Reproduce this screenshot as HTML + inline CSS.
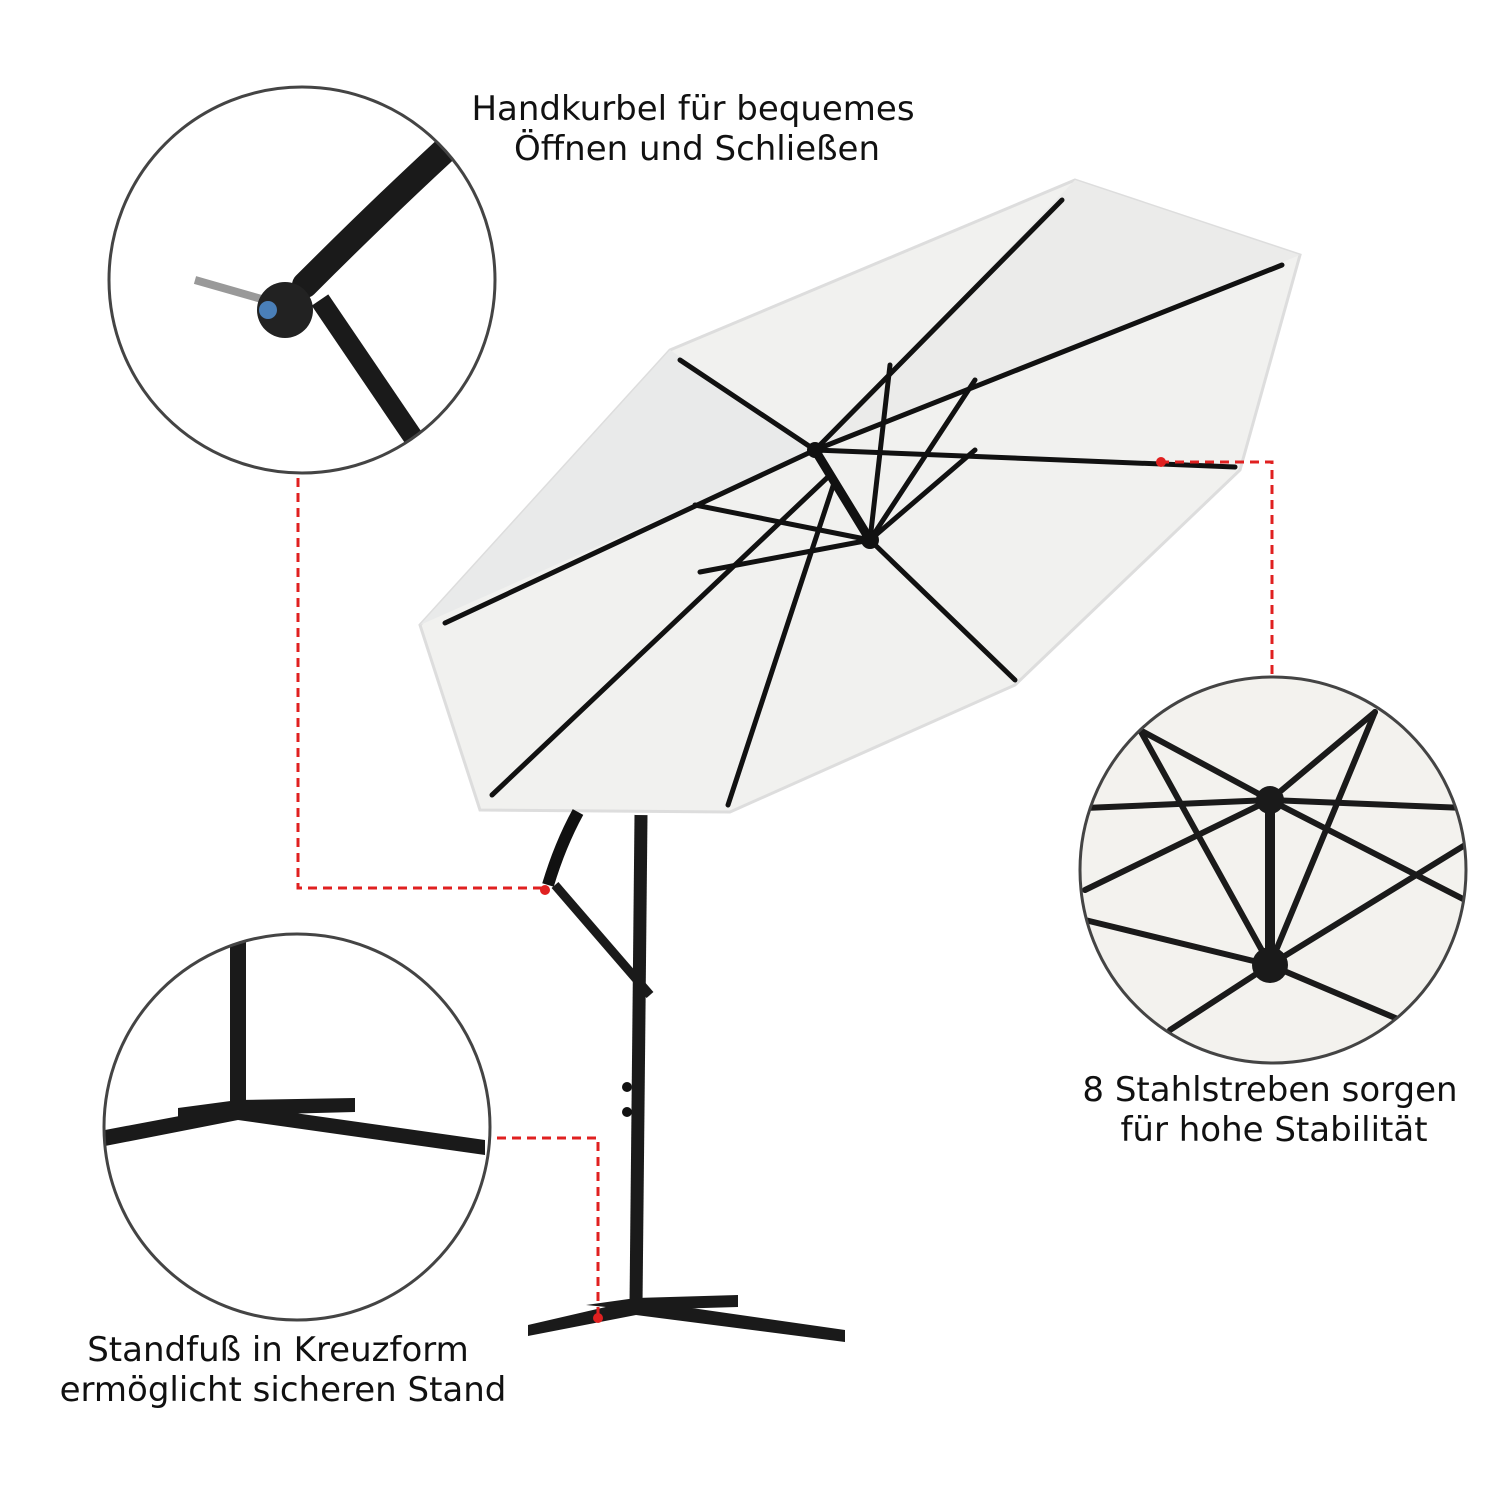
<!DOCTYPE html>
<html><head><meta charset="utf-8"><style>
html,body{margin:0;padding:0;background:#fff}
svg{display:block}
text{font-family:"DejaVu Sans","Liberation Sans",sans-serif;font-size:34px;fill:#111}
</style></head><body>
<svg width="1500" height="1500" viewBox="0 0 1500 1500" xmlns="http://www.w3.org/2000/svg">
<defs>
<clipPath id="c1"><circle cx="302" cy="280" r="193"/></clipPath>
<clipPath id="c2"><circle cx="297" cy="1127" r="193"/></clipPath>
<clipPath id="c3"><circle cx="1273" cy="870" r="193"/></clipPath>
</defs>
<!-- texts -->
<text x="693" y="120" text-anchor="middle">Handkurbel für bequemes</text>
<text x="697" y="160" text-anchor="middle">Öffnen und Schließen</text>
<text x="1270" y="1101" text-anchor="middle">8 Stahlstreben sorgen</text>
<text x="1274" y="1141" text-anchor="middle">für hohe Stabilität</text>
<text x="278" y="1361" text-anchor="middle">Standfuß in Kreuzform</text>
<text x="283" y="1401" text-anchor="middle">ermöglicht sicheren Stand</text>

<!-- canopy -->
<polygon points="1075,180 1300,255 1240,470 1015,685 730,812 480,810 420,625 670,350" fill="#f1f1ef" stroke="#ddd" stroke-width="3"/>
<polygon points="815,450 1075,180 1300,255" fill="#ebebea"/>
<polygon points="815,450 420,625 670,350" fill="#e9eaea"/>
<g stroke="#111" stroke-width="5" stroke-linecap="round" fill="none">
<line x1="815" y1="450" x2="1062" y2="200"/>
<line x1="815" y1="450" x2="1282" y2="265"/>
<line x1="815" y1="450" x2="1235" y2="467"/>
<line x1="815" y1="450" x2="680" y2="360"/>
<line x1="815" y1="450" x2="445" y2="623"/>
<line x1="870" y1="540" x2="1015" y2="680"/>
<line x1="830" y1="475" x2="492" y2="795"/>
<line x1="835" y1="480" x2="728" y2="805"/>
<line x1="870" y1="540" x2="890" y2="365"/>
<line x1="870" y1="540" x2="975" y2="380"/>
<line x1="870" y1="540" x2="695" y2="505"/>
<line x1="870" y1="540" x2="700" y2="572"/>
<line x1="870" y1="540" x2="815" y2="450" stroke-width="9"/>
<line x1="870" y1="540" x2="975" y2="450"/>
</g>
<circle cx="815" cy="450" r="8" fill="#111"/>
<circle cx="870" cy="540" r="9" fill="#111"/>

<!-- pole and arm -->
<path d="M578,812 Q560,845 548,885" stroke="#111" stroke-width="12" fill="none"/>
<line x1="555" y1="885" x2="650" y2="995" stroke="#1a1a1a" stroke-width="9"/>
<line x1="641" y1="815" x2="636" y2="1305" stroke="#1a1a1a" stroke-width="13"/>
<circle cx="627" cy="1087" r="5" fill="#111"/><circle cx="627" cy="1112" r="5" fill="#111"/>
<polygon points="528,1325 636,1300 845,1330 845,1342 636,1315 528,1336" fill="#1a1a1a"/>
<polygon points="586,1305 636,1298 738,1295 738,1307 636,1310" fill="#1a1a1a"/>

<!-- red dashed -->
<g stroke="#e02020" stroke-width="3" stroke-dasharray="9,6" fill="none">
<polyline points="298,478 298,888 545,888"/>
<polyline points="1160,462 1272,462 1272,675"/>
<polyline points="497,1138 598,1138 598,1318"/>
</g>
<circle cx="545" cy="890" r="5" fill="#e02020"/>
<circle cx="1161" cy="462" r="5" fill="#e02020"/>
<circle cx="598" cy="1318" r="5" fill="#e02020"/>

<!-- circle 1 -->
<g clip-path="url(#c1)">
<path d="M445,150 Q380,210 305,285" stroke="#1a1a1a" stroke-width="26" fill="none" stroke-linecap="round"/>
<line x1="320" y1="300" x2="415" y2="440" stroke="#1a1a1a" stroke-width="20"/>
<line x1="195" y1="280" x2="265" y2="300" stroke="#999" stroke-width="8"/>
<circle cx="285" cy="310" r="28" fill="#222"/>
<circle cx="268" cy="310" r="9" fill="#4a7fb8"/>
</g>
<circle cx="302" cy="280" r="193" fill="none" stroke="#444" stroke-width="3"/>

<!-- circle 2 -->
<g clip-path="url(#c2)">
<rect x="230" y="940" width="16" height="170" fill="#1a1a1a"/>
<polygon points="105,1130 238,1105 485,1140 485,1155 238,1120 105,1146" fill="#1a1a1a"/>
<polygon points="178,1108 238,1100 355,1098 355,1112 238,1115 178,1120" fill="#1a1a1a"/>
</g>
<circle cx="297" cy="1127" r="193" fill="none" stroke="#444" stroke-width="3"/>

<!-- circle 3 -->
<g clip-path="url(#c3)">
<rect x="1078" y="675" width="390" height="390" fill="#f3f2ee"/>
<g stroke="#1a1a1a" stroke-width="6" fill="none" stroke-linecap="round">
<line x1="1270" y1="800" x2="1140" y2="730"/>
<line x1="1270" y1="800" x2="1375" y2="712"/>
<line x1="1270" y1="800" x2="1085" y2="808"/>
<line x1="1270" y1="800" x2="1465" y2="808"/>
<line x1="1270" y1="800" x2="1085" y2="890"/>
<line x1="1270" y1="800" x2="1465" y2="900"/>
<line x1="1270" y1="965" x2="1140" y2="730"/>
<line x1="1270" y1="965" x2="1375" y2="712"/>
<line x1="1270" y1="965" x2="1085" y2="920"/>
<line x1="1270" y1="965" x2="1465" y2="845"/>
<line x1="1270" y1="965" x2="1170" y2="1030"/>
<line x1="1270" y1="965" x2="1400" y2="1020"/>
<line x1="1270" y1="965" x2="1270" y2="800" stroke-width="10"/>
</g>
<circle cx="1270" cy="800" r="14" fill="#1a1a1a"/>
<circle cx="1270" cy="965" r="18" fill="#1a1a1a"/>
</g>
<circle cx="1273" cy="870" r="193" fill="none" stroke="#444" stroke-width="3"/>
</svg>
</body></html>
